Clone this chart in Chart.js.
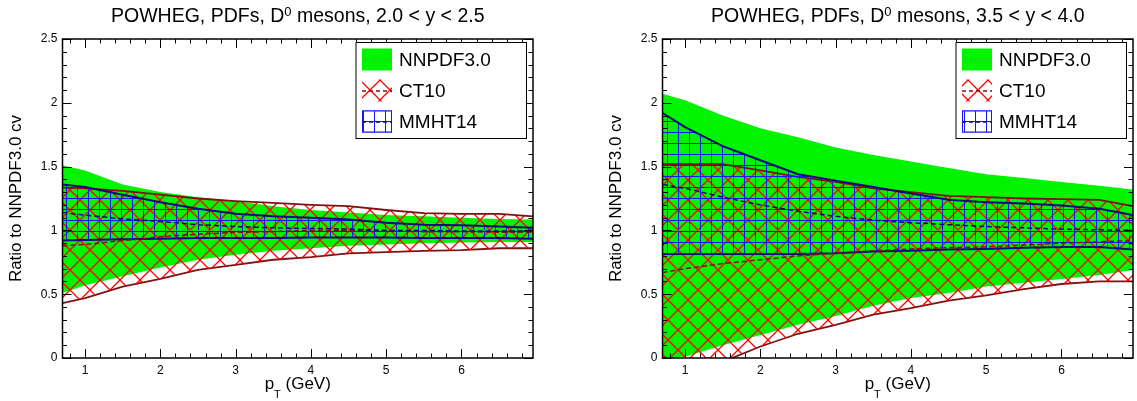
<!DOCTYPE html>
<html>
<head>
<meta charset="utf-8">
<script src="https://cdn.jsdelivr.net/npm/chart.js@4.4.1/dist/chart.umd.min.js"></script>
<style>
  body { margin: 0; background: #fff; }
  #wrap { display: flex; width: 1137px; height: 401px; }
  canvas { display: block; }
</style>
</head>
<body>
<div id="wrap">
  <canvas id="left" width="568" height="401"></canvas>
  <canvas id="right" width="569" height="401"></canvas>
</div>
<script>
// pT nodes (GeV) where the ratios are given
const ptNodes = [0.7, 1, 1.5, 2, 2.5, 3, 3.5, 4, 4.5, 5, 5.5, 6, 6.5, 6.95];

// 2.0 < y < 2.5
const nnUpA = [1.51, 1.47, 1.36, 1.30, 1.26, 1.23, 1.19, 1.16, 1.14, 1.12, 1.11, 1.10, 1.09, 1.085];
const nnLoA = [0.51, 0.57, 0.64, 0.71, 0.77, 0.81, 0.84, 0.86, 0.88, 0.89, 0.90, 0.905, 0.91, 0.91];
const nnCvA = [1, 1, 1, 1, 1, 1, 1, 1, 1, 1, 1, 1, 1, 1];
const ctUpA = [1.335, 1.33, 1.31, 1.28, 1.25, 1.23, 1.215, 1.20, 1.19, 1.16, 1.135, 1.13, 1.13, 1.11];
const ctLoA = [0.43, 0.47, 0.56, 0.62, 0.69, 0.73, 0.77, 0.79, 0.82, 0.83, 0.84, 0.845, 0.86, 0.86];
const ctCvA = [0.88, 0.89, 0.92, 0.95, 0.97, 0.985, 0.99, 1.0, 1.0, 0.995, 0.99, 0.99, 0.985, 0.985];
const mmUpA = [1.36, 1.34, 1.28, 1.22, 1.17, 1.13, 1.11, 1.10, 1.085, 1.06, 1.045, 1.04, 1.03, 1.02];
const mmLoA = [0.92, 0.925, 0.93, 0.935, 0.94, 0.94, 0.94, 0.945, 0.945, 0.945, 0.94, 0.94, 0.94, 0.935];
const mmCvA = [1.14, 1.12, 1.09, 1.07, 1.045, 1.03, 1.02, 1.015, 1.01, 1.0, 1.0, 0.995, 0.995, 0.995];

// 3.5 < y < 4.0
const nnUpB = [2.07, 2.02, 1.90, 1.80, 1.73, 1.65, 1.59, 1.54, 1.49, 1.44, 1.41, 1.38, 1.35, 1.32];
const nnLoB = [-0.06, 0.01, 0.10, 0.18, 0.26, 0.33, 0.41, 0.47, 0.51, 0.56, 0.59, 0.62, 0.65, 0.69];
const nnCvB = [1, 1, 1, 1, 1, 1, 1, 1, 1, 1, 1, 1, 1, 1];
const ctUpB = [1.52, 1.52, 1.52, 1.47, 1.42, 1.38, 1.33, 1.30, 1.27, 1.26, 1.25, 1.245, 1.24, 1.19];
const ctLoB = [-0.2, -0.15, -0.03, 0.09, 0.19, 0.26, 0.34, 0.39, 0.45, 0.49, 0.54, 0.58, 0.60, 0.60];
const ctCvB = [0.67, 0.70, 0.74, 0.77, 0.80, 0.82, 0.84, 0.855, 0.865, 0.87, 0.885, 0.90, 0.91, 0.92];
const mmUpB = [1.92, 1.81, 1.66, 1.55, 1.44, 1.39, 1.34, 1.29, 1.24, 1.22, 1.21, 1.195, 1.17, 1.12];
const mmLoB = [0.815, 0.815, 0.815, 0.815, 0.815, 0.82, 0.835, 0.84, 0.85, 0.855, 0.865, 0.87, 0.87, 0.85];
const mmCvB = [1.36, 1.33, 1.26, 1.20, 1.15, 1.11, 1.08, 1.06, 1.045, 1.03, 1.02, 1.01, 1.005, 1.0];

const xTickVals = [1, 2, 3, 4, 5, 6];
const yTickVals = [0, 0.5, 1, 1.5, 2, 2.5];
const seriesNames = ['NNPDF3.0', 'CT10', 'MMHT14'];
const rapidityLabels = ['2.0 < y < 2.5', '3.5 < y < 4.0'];

const FONT = "'Liberation Sans', Arial, Helvetica, sans-serif";
const GREEN = '#00f400';
const CT_LINE = '#7d1212';
const MM_LINE = '#0a0a80';

function makePatterns(ctx) {
  // red cross-hatch: both diagonals stroked, repeated across tile edges
  const n = 20;
  const ct = document.createElement('canvas');
  ct.width = n; ct.height = n;
  let g = ct.getContext('2d');
  g.strokeStyle = '#ff0000';
  g.lineWidth = 1.3;
  g.beginPath();
  for (const o of [-n, 0, n]) {
    g.moveTo(o, 0); g.lineTo(o + n, n);
    g.moveTo(o, n); g.lineTo(o + n, 0);
  }
  g.stroke();

  // blue grid
  const mm = document.createElement('canvas');
  mm.width = 11; mm.height = 11;
  g = mm.getContext('2d');
  g.fillStyle = '#1414ff';
  g.fillRect(0, 0, 11, 1);
  g.fillRect(0, 0, 1, 11);

  return {ct: ctx.createPattern(ct, 'repeat'), mm: ctx.createPattern(mm, 'repeat')};
}

function pts(vals) {
  return ptNodes.map((x, i) => ({x: x, y: vals[i]}));
}

// ROOT-like frame, inward ticks, titles and legend
const rootFrame = {
  id: 'rootFrame',
  afterDatasetsDraw(chart, args, opts) {
    const {ctx, chartArea: a, scales: {x, y}} = chart;
    ctx.save();
    ctx.strokeStyle = '#000';
    ctx.lineWidth = 1;
    ctx.beginPath();
    for (let k = 0; k <= 25; k++) {
      const py = Math.round(y.getPixelForValue(k / 10)) + 0.5;
      const len = k % 5 === 0 ? 9 : 4.5;
      ctx.moveTo(a.left, py); ctx.lineTo(a.left + len, py);
      ctx.moveTo(a.right, py); ctx.lineTo(a.right - len, py);
    }
    for (let k = 4; k <= 34; k++) {
      const px = Math.round(x.getPixelForValue(k / 5)) + 0.5;
      const len = k % 5 === 0 ? 9 : 4.5;
      ctx.moveTo(px, a.bottom); ctx.lineTo(px, a.bottom - len);
      ctx.moveTo(px, a.top); ctx.lineTo(px, a.top + len);
    }
    ctx.stroke();
    ctx.lineWidth = 1.5;
    ctx.strokeRect(a.left, a.top, a.right - a.left, a.bottom - a.top);
    ctx.restore();
  },
  afterDraw(chart, args, opts) {
    const {ctx, chartArea: a} = chart;
    const pat = opts.patterns;
    const cx = (a.left + a.right) / 2;
    ctx.save();
    ctx.fillStyle = '#000';

    // title with superscript
    const parts = [
      {t: 'POWHEG, PDFs, D', size: 19.5, dy: 0},
      {t: '0', size: 13, dy: -5.5},
      {t: ' mesons, ' + opts.rapidity, size: 19.5, dy: 0}
    ];
    let w = 0;
    parts.forEach(p => { ctx.font = p.size + 'px ' + FONT; p.w = ctx.measureText(p.t).width; w += p.w; });
    let tx = cx - w / 2;
    ctx.textBaseline = 'alphabetic';
    ctx.textAlign = 'left';
    parts.forEach(p => { ctx.font = p.size + 'px ' + FONT; ctx.fillText(p.t, tx, 21.5 + p.dy); tx += p.w; });

    // x title with subscript
    const xp = [
      {t: 'p', size: 17, dy: 0},
      {t: 'T', size: 11, dy: 9},
      {t: ' (GeV)', size: 17, dy: 0}
    ];
    w = 0;
    xp.forEach(p => { ctx.font = p.size + 'px ' + FONT; p.w = ctx.measureText(p.t).width; w += p.w; });
    tx = cx - w / 2;
    xp.forEach(p => { ctx.font = p.size + 'px ' + FONT; ctx.fillText(p.t, tx, 389 + p.dy); tx += p.w; });

    // y title
    ctx.save();
    ctx.translate(opts.yTitleX, (a.top + a.bottom) / 2);
    ctx.rotate(-Math.PI / 2);
    ctx.font = '17px ' + FONT;
    ctx.textAlign = 'center';
    ctx.textBaseline = 'middle';
    ctx.fillText('Ratio to NNPDF3.0 cv', 0, 0);
    ctx.restore();

    // legend box
    const L = a.left + 293.5, R = a.right - 6.5, T = 42.5, B = 138.5;
    ctx.fillStyle = '#fff';
    ctx.fillRect(L, T, R - L, B - T);
    ctx.strokeStyle = '#000';
    ctx.lineWidth = 1;
    ctx.strokeRect(L, T, R - L, B - T);
    const rows = [T + 17, T + 48, T + 79];
    const sx = L + 6, sw = 30, sh = 22;
    const fills = [GREEN, pat.ct, pat.mm];
    const lineCols = ['#3fbf3f', CT_LINE, MM_LINE];
    rows.forEach((ry, i) => {
      ctx.fillStyle = fills[i];
      ctx.fillRect(sx, ry - sh / 2, sw, sh);
      if (i === 2) {
        ctx.strokeStyle = '#1414ff';
        ctx.strokeRect(sx + 0.5, ry - sh / 2 + 0.5, sw - 1, sh - 1);
      }
      ctx.strokeStyle = lineCols[i];
      ctx.lineWidth = i === 0 ? 1 : 1.5;
      ctx.setLineDash([4, 3]);
      ctx.beginPath();
      ctx.moveTo(sx, ry + 0.5); ctx.lineTo(sx + sw, ry + 0.5);
      ctx.stroke();
      ctx.setLineDash([]);
      ctx.lineWidth = 1;
      ctx.fillStyle = '#000';
      ctx.font = '19px ' + FONT;
      ctx.textAlign = 'left';
      ctx.textBaseline = 'middle';
      ctx.fillText(seriesNames[i], L + 43, ry + 1.5);
    });
    ctx.restore();
  }
};

function makeChart(id, d, rapidity, padL, padR, yTitleX) {
  const ctx = document.getElementById(id).getContext('2d');
  const pat = makePatterns(ctx);
  const line = (vals, color, width, dash, fill, bg) => ({
    data: pts(vals),
    borderColor: color,
    borderWidth: width,
    borderDash: dash || [],
    backgroundColor: bg || 'transparent',
    fill: fill === undefined ? false : fill,
    pointRadius: 0,
    tension: 0
  });
  const datasets = [
    line(d.mmCv, MM_LINE, 1.5, [5, 3]),
    line(d.ctCv, CT_LINE, 1.5, [5, 3]),
    line(d.nnCv, '#3fbf3f', 1, [4, 3]),
    line(d.mmUp, MM_LINE, 2, null, 4, pat.mm),
    line(d.mmLo, MM_LINE, 2),
    line(d.ctUp, CT_LINE, 1.8, null, 6, pat.ct),
    line(d.ctLo, CT_LINE, 1.8),
    line(d.nnUp, 'transparent', 0, null, 8, GREEN),
    line(d.nnLo, 'transparent', 0)
  ];
  return new Chart(ctx, {
    type: 'line',
    data: {datasets: datasets},
    options: {
      responsive: false,
      animation: false,
      devicePixelRatio: 1,
      events: [],
      layout: {padding: {top: 39, left: padL, right: padR, bottom: 0}},
      plugins: {
        legend: {display: false},
        tooltip: {enabled: false},
        rootFrame: {rapidity: rapidity, yTitleX: yTitleX, patterns: pat}
      },
      scales: {
        x: {
          type: 'linear', min: 0.7, max: 6.95,
          grid: {display: false, drawTicks: false},
          border: {display: false},
          ticks: {font: {family: FONT, size: 12}, color: '#000', padding: 5, maxRotation: 0, autoSkip: false,
                  callback: v => String(v)},
          afterBuildTicks: s => { s.ticks = xTickVals.map(v => ({value: v})); },
          afterFit: s => { s.height = 43; }
        },
        y: {
          type: 'linear', min: 0, max: 2.5,
          grid: {display: false, drawTicks: false},
          border: {display: false},
          ticks: {font: {family: FONT, size: 12}, color: '#000', padding: 5,
                  callback: v => String(v)},
          afterBuildTicks: s => { s.ticks = yTickVals.map(v => ({value: v})); },
          afterFit: s => { s.width = 62; }
        }
      }
    },
    plugins: [rootFrame]
  });
}

makeChart('left', {
  nnUp: nnUpA, nnLo: nnLoA, nnCv: nnCvA,
  ctUp: ctUpA, ctLo: ctLoA, ctCv: ctCvA,
  mmUp: mmUpA, mmLo: mmLoA, mmCv: mmCvA
}, rapidityLabels[0], 0.5, 35, 16.5);

makeChart('right', {
  nnUp: nnUpB, nnLo: nnLoB, nnCv: nnCvB,
  ctUp: ctUpB, ctLo: ctLoB, ctCv: ctCvB,
  mmUp: mmUpB, mmLo: mmLoB, mmCv: mmCvB
}, rapidityLabels[1], 32.5, 4, 48);
</script>
</body>
</html>
